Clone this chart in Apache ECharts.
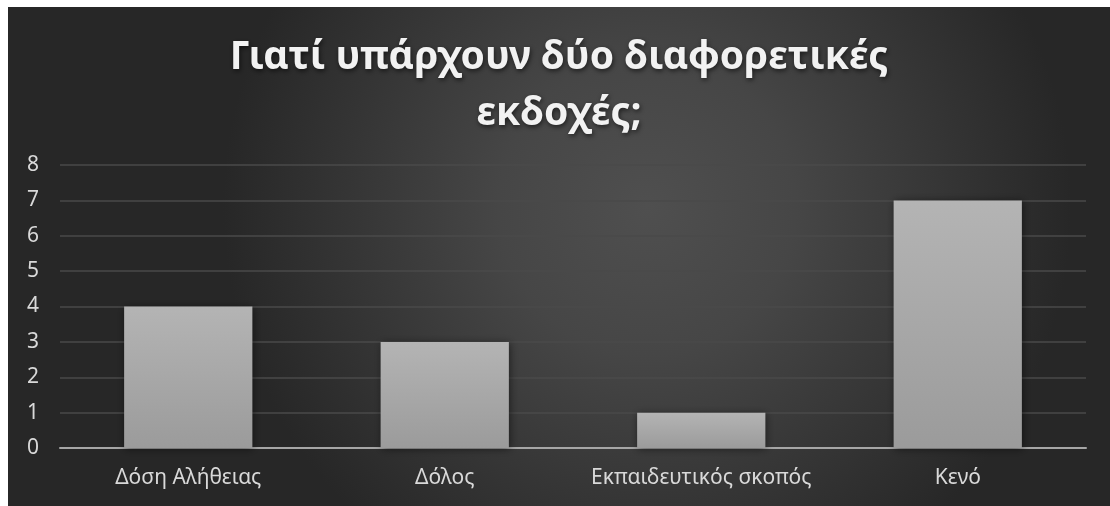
<!DOCTYPE html>
<html>
<head>
<meta charset="utf-8">
<script src="https://cdn.jsdelivr.net/npm/echarts@6/dist/echarts.min.js"></script>
<style>
  html, body { margin: 0; padding: 0; background: #ffffff; }
  #chart { position: absolute; left: 8px; top: 7px; width: 1102px; height: 499px; }
</style>
</head>
<body>
<div id="chart"></div>
<script>
(function () {
    'use strict';

    // chart data
    const categories = ['Δόση Αλήθειας', 'Δόλος', 'Εκπαιδευτικός σκοπός', 'Κενό'];
    const values = [4, 3, 1, 7];
    const titleText = 'Γιατί υπάρχουν δύο διαφορετικές\nεκδοχές;';

    const chart = echarts.init(document.getElementById('chart'));

    chart.setOption({
        backgroundColor: {
            type: 'radial', x: 0.58, y: 0.4, r: 0.85,
            colorStops: [
                { offset: 0, color: '#4f4f4f' },
                { offset: 0.35, color: '#464646' },
                { offset: 1, color: '#272727' }
            ]
        },
        title: {
            text: titleText,
            left: 'center',
            top: 18,
            textStyle: {
                fontFamily: 'Noto Sans',
                fontSize: 39,
                fontWeight: 'bold',
                color: '#f2f2f2',
                lineHeight: 56,
                textShadowColor: 'rgba(0,0,0,0.6)',
                textShadowBlur: 5,
                textShadowOffsetX: 1,
                textShadowOffsetY: 2
            }
        },
        grid: { left: 52, right: 24, top: 158, bottom: 58 },
        xAxis: {
            type: 'category',
            data: categories,
            axisTick: { show: false },
            axisLine: { lineStyle: { color: '#a6a6a6', width: 2 } },
            axisLabel: { color: '#d9d9d9', fontSize: 21, fontFamily: 'Noto Sans', margin: 20, interval: 0 }
        },
        yAxis: {
            type: 'value',
            min: 0,
            max: 8,
            interval: 1,
            axisLine: { show: false },
            axisTick: { show: false },
            splitLine: { lineStyle: { color: '#4a4a4a', width: 1.5 } },
            axisLabel: { color: '#d9d9d9', fontSize: 21, fontFamily: 'Noto Sans', margin: 21 }
        },
        series: [{
            type: 'bar',
            data: values,
            barWidth: '50%',
            itemStyle: {
                color: {
                    type: 'linear', x: 0, y: 0, x2: 0, y2: 1,
                    colorStops: [
                        { offset: 0, color: '#b4b4b4' },
                        { offset: 1, color: '#9b9b9b' }
                    ]
                },
                shadowColor: 'rgba(0,0,0,0.5)',
                shadowBlur: 8,
                shadowOffsetX: 1,
                shadowOffsetY: 1
            }
        }],
        animation: false
    });
}());
</script>
</body>
</html>
